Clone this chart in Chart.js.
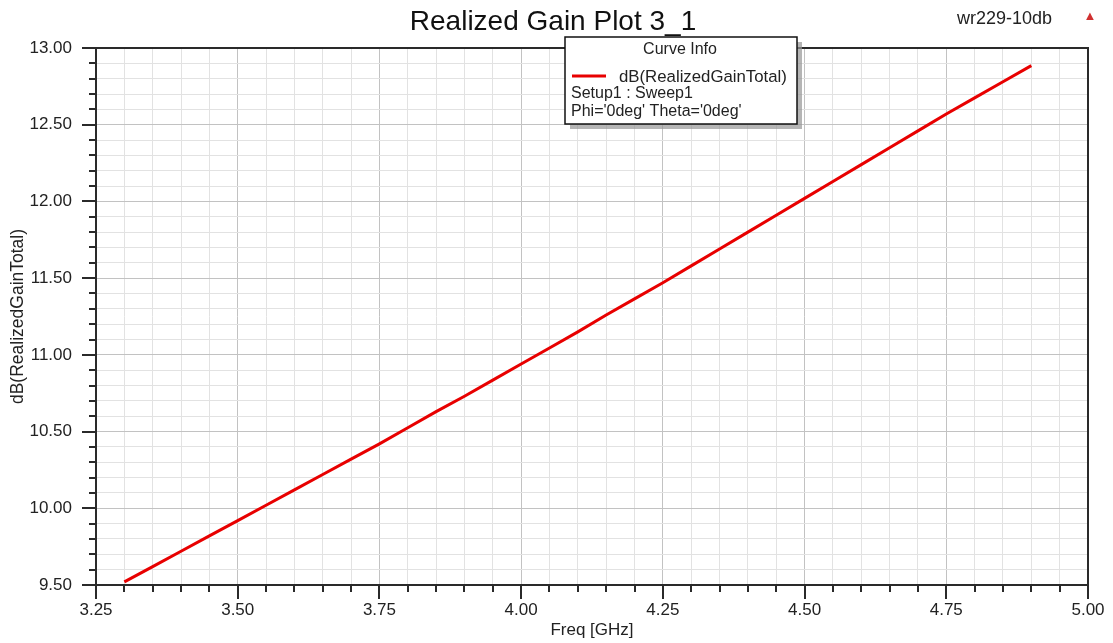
<!DOCTYPE html>
<html><head><meta charset="utf-8">
<script src="https://cdn.jsdelivr.net/npm/chart.js@4/dist/chart.umd.min.js"></script>
<style>html,body{margin:0;padding:0;background:#fff;}#wrap{width:1113px;height:643px;position:relative}</style>
</head><body><div id="wrap"><canvas id="c"></canvas></div>
<script>
const chartTitle = 'Realized Gain Plot 3_1';
const projectName = 'wr229-10db';
const seriesName = 'dB(RealizedGainTotal)';
const legendHeader = 'Curve Info';
const legendInfo = ['Setup1 : Sweep1', "Phi='0deg' Theta='0deg'"];
const xAxisTitle = 'Freq [GHz]';
const yAxisTitle = 'dB(RealizedGainTotal)';
const freqGHz = [3.30,3.35,3.40,3.45,3.50,3.55,3.60,3.65,3.70,3.75,3.80,3.85,3.90,3.95,4.00,4.05,4.10,4.15,4.20,4.25,4.30,4.35,4.40,4.45,4.50,4.55,4.60,4.65,4.70,4.75,4.80,4.85,4.90];
const gainDb  = [9.52,9.62,9.72,9.82,9.92,10.02,10.12,10.22,10.32,10.42,10.525,10.63,10.73,10.835,10.94,11.045,11.15,11.26,11.365,11.47,11.58,11.69,11.80,11.91,12.02,12.13,12.24,12.35,12.46,12.57,12.675,12.78,12.885];
const xTickValues = [3.25,3.50,3.75,4.00,4.25,4.50,4.75,5.00];
const yTickValues = [9.50,10.00,10.50,11.00,11.50,12.00,12.50,13.00];

const FONT = '"Liberation Sans", Arial, sans-serif';
const isLabelled = (v, list) => list.some(t => Math.abs(t - v) < 1e-6);
const MAJOR = '#c2c2c2', MINOR = '#e2e2e2', INK = '#2a2a2a';

const decor = {
  id: 'decor',
  beforeDraw(chart) {
    const ctx = chart.ctx;
    ctx.save(); ctx.fillStyle = '#fff'; ctx.fillRect(0, 0, chart.width, chart.height); ctx.restore();
  },
  afterDatasetsDraw(chart) {
    const {ctx, chartArea: a, scales: {x, y}} = chart;
    ctx.save();
    ctx.strokeStyle = INK; ctx.lineWidth = 2;
    ctx.strokeRect(a.left, a.top, a.right - a.left, a.bottom - a.top);
    ctx.beginPath();
    x.ticks.forEach(t => {
      const px = Math.round(x.getPixelForValue(t.value));
      const len = isLabelled(t.value, xTickValues) ? 14 : 7;
      ctx.moveTo(px, a.bottom); ctx.lineTo(px, a.bottom + len);
    });
    y.ticks.forEach(t => {
      const py = Math.round(y.getPixelForValue(t.value));
      const len = isLabelled(t.value, yTickValues) ? 14 : 7;
      ctx.moveTo(a.left, py); ctx.lineTo(a.left - len, py);
    });
    ctx.stroke();

    // legend box (drawn before title so the title's underscore sits on top)
    const bx = 565, by = 37, bw = 232, bh = 87;
    ctx.fillStyle = 'rgba(150,150,150,0.7)';
    ctx.fillRect(bx + 5, by + 5, bw, bh);
    ctx.fillStyle = '#fff';
    ctx.fillRect(bx, by, bw, bh);
    ctx.strokeStyle = '#111'; ctx.lineWidth = 1.5;
    ctx.strokeRect(bx, by, bw, bh);
    ctx.textBaseline = 'middle';
    ctx.font = '16px ' + FONT;
    ctx.fillStyle = '#222';
    ctx.textAlign = 'center';
    ctx.fillText(legendHeader, 680, 50);
    const ds = chart.data.datasets[0];
    ctx.strokeStyle = ds.borderColor; ctx.lineWidth = 3;
    ctx.beginPath(); ctx.moveTo(572, 76); ctx.lineTo(606, 76); ctx.stroke();
    ctx.textAlign = 'left';
    ctx.font = '16.8px ' + FONT;
    ctx.fillText(ds.label, 619, 77);
    ctx.font = '16px ' + FONT;
    legendInfo.forEach((s, i) => ctx.fillText(s, 571, 94 + i * 18));

    ctx.fillStyle = '#111';
    ctx.textAlign = 'center';
    ctx.font = '28px ' + FONT;
    ctx.fillText(chartTitle, 553, 22);
    ctx.font = '18px ' + FONT;
    ctx.textAlign = 'left';
    ctx.fillStyle = '#222';
    ctx.fillText(projectName, 957, 19);
    ctx.font = '13px ' + FONT;
    ctx.fillStyle = '#d03030';
    ctx.textAlign = 'center';
    ctx.fillText('▲', 1090, 16);
    ctx.restore();
  }
};

new Chart(document.getElementById('c'), {
  type: 'line',
  data: {
    datasets: [{
      label: seriesName,
      data: freqGHz.map((f, i) => ({x: f, y: gainDb[i]})),
      borderColor: 'rgb(232,0,0)',
      borderWidth: 3,
      pointRadius: 0,
      tension: 0,
      fill: false
    }]
  },
  plugins: [decor],
  options: {
    responsive: true,
    maintainAspectRatio: false,
    animation: false,
    layout: {padding: {top: 48, right: 25, left: 0, bottom: 0}},
    plugins: {legend: {display: false}, tooltip: {enabled: false}, title: {display: false}},
    scales: {
      x: {
        type: 'linear', min: 3.25, max: 5.0,
        afterFit(s) { s.height = 58; },
        border: {display: false},
        grid: {drawTicks: true, tickLength: 14, tickColor: 'rgba(0,0,0,0)', lineWidth: 1,
          color: c => (c.tick && isLabelled(c.tick.value, xTickValues)) ? MAJOR : MINOR},
        ticks: {stepSize: 0.05, autoSkip: false, maxRotation: 0, minRotation: 0, padding: 1,
          color: '#222', font: {family: FONT, size: 17},
          callback: v => isLabelled(v, xTickValues) ? Number(v).toFixed(2) : ''},
        title: {display: true, text: xAxisTitle, color: '#222', font: {family: FONT, size: 17}, padding: {top: 0, bottom: 2}}
      },
      y: {
        type: 'linear', min: 9.5, max: 13.0,
        afterFit(s) { s.width = 96; },
        border: {display: false},
        grid: {drawTicks: false, lineWidth: 1,
          color: c => (c.tick && isLabelled(c.tick.value, yTickValues)) ? MAJOR : MINOR},
        ticks: {stepSize: 0.1, autoSkip: false, padding: 24,
          color: '#222', font: {family: FONT, size: 17},
          callback: v => isLabelled(v, yTickValues) ? Number(v).toFixed(2) : ''},
        title: {display: true, text: yAxisTitle, color: '#222', font: {family: FONT, size: 17.5}, padding: {top: 8, bottom: 0}}
      }
    }
  }
});
</script></body></html>
